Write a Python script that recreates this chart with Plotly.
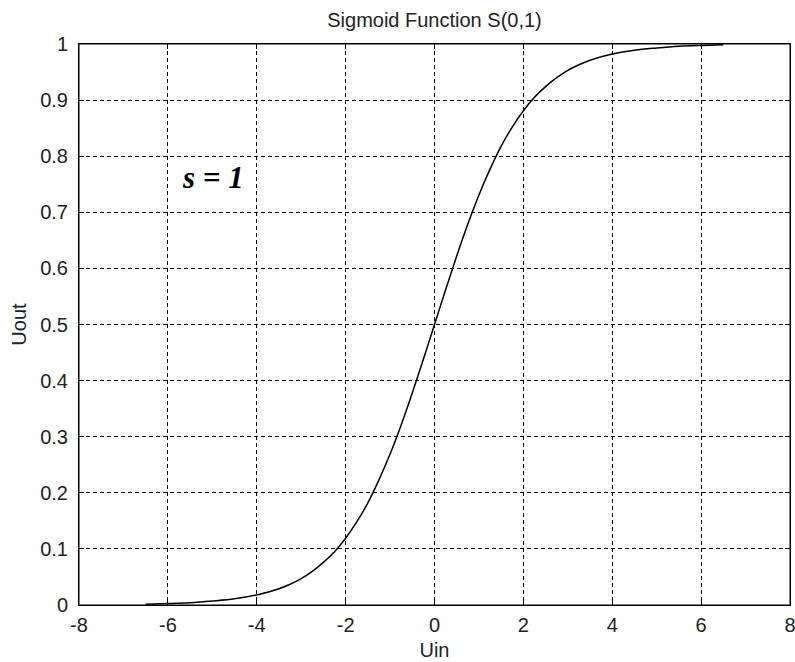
import plotly.graph_objects as go

# Sampled input values and the measured output of the sigmoid S(0,1)
uin = [-6.5, -6.0, -5.5, -5.0, -4.5, -4.0, -3.5, -3.25, -3.0, -2.75, -2.5, -2.25, -2.0,
       -1.75, -1.5, -1.25, -1.0, -0.75, -0.5, -0.25, 0.0, 0.25, 0.5, 0.75, 1.0, 1.25,
       1.5, 1.75, 2.0, 2.25, 2.5, 2.75, 3.0, 3.25, 3.5, 4.0, 4.5, 5.0, 5.5, 6.0, 6.5]
uout = [0.0015, 0.0025, 0.004, 0.007, 0.011, 0.018, 0.029, 0.037, 0.047, 0.060, 0.076,
        0.095, 0.119, 0.148, 0.182, 0.223, 0.269, 0.321, 0.378, 0.438, 0.5, 0.562,
        0.622, 0.679, 0.731, 0.777, 0.818, 0.852, 0.881, 0.905, 0.924, 0.940, 0.953,
        0.963, 0.971, 0.982, 0.989, 0.993, 0.996, 0.9975, 0.9985]

x_ticks = [-8, -6, -4, -2, 0, 2, 4, 6, 8]
y_ticks = [0, 0.1, 0.2, 0.3, 0.4, 0.5, 0.6, 0.7, 0.8, 0.9, 1]
y_tick_text = ["0", "0.1", "0.2", "0.3", "0.4", "0.5", "0.6", "0.7", "0.8", "0.9", "1"]

W, H = 795, 662
FONT = "Liberation Sans, Arial, sans-serif"

fig = go.Figure()
fig.add_trace(go.Scatter(
    x=uin, y=uout, mode="lines",
    line=dict(color="black", width=1.5, shape="spline", smoothing=1.0),
    showlegend=False, hoverinfo="skip",
))

axis_common = dict(
    showline=True, linecolor="black", linewidth=1, mirror="ticks",
    ticks="inside", ticklen=5, tickcolor="black", tickwidth=1,
    showgrid=True, gridcolor="black", gridwidth=1, griddash="4px,3px",
    zeroline=False, tickfont=dict(family=FONT, size=20, color="#222"),
    ticklabeloverflow="allow", automargin=False,
)

fig.update_xaxes(
    range=[-8, 8], tickmode="array", tickvals=x_ticks,
    ticktext=[str(v) for v in x_ticks],
    title=dict(text="Uin", font=dict(family=FONT, size=20, color="#222"), standoff=7),
    ticklabelstandoff=2, **axis_common,
)
fig.update_yaxes(
    range=[0, 1], tickmode="array", tickvals=y_ticks, ticktext=y_tick_text,
    title=dict(text="Uout", font=dict(family=FONT, size=20, color="#222"), standoff=8),
    ticklabelstandoff=6, **axis_common,
)

# Axes frame around the plotting area
fig.add_shape(type="rect", xref="x domain", yref="y domain", x0=0, x1=1, y0=0, y1=1,
              line=dict(color="black", width=1), layer="above")

fig.add_annotation(
    x=-5.72, y=0.762, xref="x", yref="y", xanchor="left", yanchor="middle",
    text="<b><i>s = 1</i></b>", showarrow=False,
    font=dict(family="Liberation Serif, Times New Roman, serif", size=31, color="black"),
)

fig.update_layout(
    width=W, height=H,
    margin=dict(l=79, r=5, t=44, b=57),
    paper_bgcolor="white", plot_bgcolor="white",
    title=dict(text="Sigmoid Function S(0,1)", x=(79 + 790) / 2 / W, xanchor="center",
               y=1 - 20 / H, yanchor="middle",
               font=dict(family=FONT, size=20, color="#222")),
)

fig.write_html("out.html")
